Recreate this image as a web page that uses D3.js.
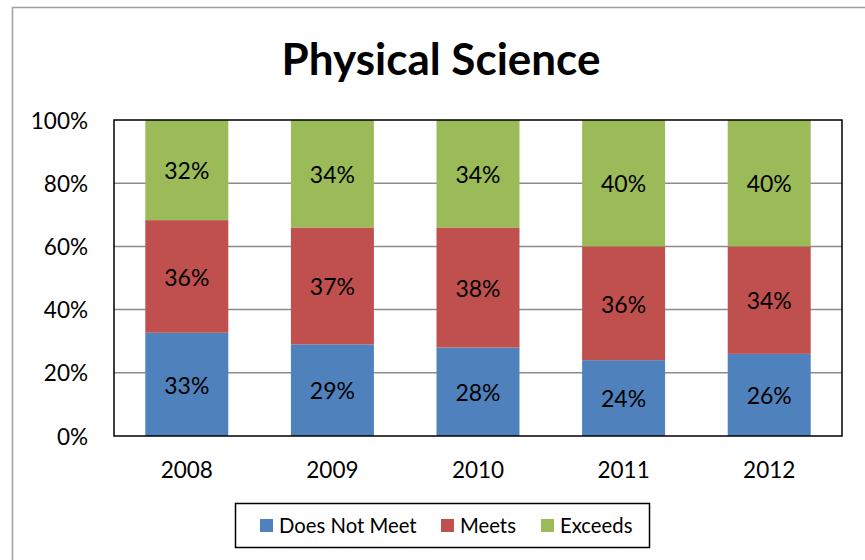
<!DOCTYPE html>
<html>
<head>
<meta charset="utf-8">
<script src="https://cdn.jsdelivr.net/npm/d3@7"></script>
<style>
  body { margin: 0; background: #fff; }
  svg { font-family: Lato, "Open Sans", sans-serif; }
</style>
</head>
<body>
<div id="chart"></div>
<script>
const years = ["2008", "2009", "2010", "2011", "2012"];
const seriesNames = ["Does Not Meet", "Meets", "Exceeds"];
const doesNotMeet = [33, 29, 28, 24, 26];
const meets = [36, 37, 38, 36, 34];
const exceeds = [32, 34, 34, 40, 40];
const yTicks = [0, 0.2, 0.4, 0.6, 0.8, 1];
const colors = ["#4F81BD", "#C0504D", "#9BBB59"];

const W = 865, H = 560;
const margin = {top: 120, right: 23, bottom: 124, left: 114};
const width = W - margin.left - margin.right;
const height = H - margin.top - margin.bottom;

const rows = years.map((y, i) => ({
  year: y,
  "Does Not Meet": doesNotMeet[i],
  "Meets": meets[i],
  "Exceeds": exceeds[i]
}));

// 100% stacked: each year is scaled to its own total
const stacked = d3.stack()
  .keys(seriesNames)
  .offset(d3.stackOffsetExpand)(rows);

const svg = d3.select("#chart").append("svg")
  .attr("width", W).attr("height", H);

// outer chart frame
svg.append("rect")
  .attr("x", 12.5).attr("y", 7.5)
  .attr("width", W).attr("height", H)
  .attr("fill", "none").attr("stroke", "#a0a0a0").attr("stroke-width", 1.5);

svg.append("text")
  .attr("x", 441).attr("y", 75)
  .attr("text-anchor", "middle")
  .attr("font-size", 44).attr("font-weight", "bold")
  .text("Physical Science");

const g = svg.append("g")
  .attr("transform", "translate(" + margin.left + "," + margin.top + ")");

const x = d3.scaleBand().domain(years).range([0, width]).paddingInner(0.43).paddingOuter(0.215);
const y = d3.scaleLinear().domain([0, 1]).range([height, 0]);

// gridlines
g.append("g")
  .selectAll("line")
  .data(yTicks.filter(t => t > 0 && t < 1))
  .join("line")
  .attr("x1", 0).attr("x2", width)
  .attr("y1", d => y(d)).attr("y2", d => y(d))
  .attr("stroke", "#8c8c8c").attr("stroke-width", 1.5);

// bars
const layers = g.selectAll(".layer")
  .data(stacked)
  .join("g")
  .attr("fill", (d, i) => colors[i]);

layers.selectAll("rect")
  .data(d => d)
  .join("rect")
  .attr("x", d => x(d.data.year))
  .attr("width", x.bandwidth())
  .attr("y", d => y(d[1]))
  .attr("height", d => y(d[0]) - y(d[1]));

// data labels
layers.each(function(layer) {
  d3.select(this).selectAll("text")
    .data(layer)
    .join("text")
    .attr("x", d => x(d.data.year) + x.bandwidth() / 2)
    .attr("y", d => (y(d[0]) + y(d[1])) / 2 + 1)
    .attr("dy", "0.36em")
    .attr("text-anchor", "middle")
    .attr("font-size", 23)
    .attr("fill", "#000")
    .text(d => d.data[layer.key] + "%");
});

// plot border
g.append("rect")
  .attr("x", 0).attr("y", 0)
  .attr("width", width).attr("height", height)
  .attr("fill", "none").attr("stroke", "#000").attr("stroke-width", 1.5);

// y axis
const yAxis = g.append("g")
  .call(d3.axisLeft(y).tickValues(yTicks).tickFormat(d3.format(".0%")).tickSize(0).tickPadding(26));
yAxis.select(".domain").remove();
yAxis.selectAll("text").attr("font-size", 22.5).attr("font-family", "Lato, sans-serif").attr("fill", "#000").attr("dy", "0.36em");

// x axis
const xAxis = g.append("g")
  .attr("transform", "translate(0," + height + ")")
  .call(d3.axisBottom(x).tickSize(0));
xAxis.select(".domain").remove();
xAxis.selectAll("text").attr("font-size", 22.5).attr("font-family", "Lato, sans-serif").attr("fill", "#000")
  .attr("y", 34).attr("dy", "0.36em");

// legend
const legend = svg.append("g");
legend.append("rect")
  .attr("x", 235.5).attr("y", 503.5)
  .attr("width", 414).attr("height", 44)
  .attr("fill", "#fff").attr("stroke", "#000").attr("stroke-width", 1.5);

const legendX = [260, 441, 541];
const items = legend.selectAll(".item")
  .data(seriesNames)
  .join("g")
  .attr("transform", (d, i) => "translate(" + legendX[i] + ",519)");
items.append("rect")
  .attr("width", 13).attr("height", 13)
  .attr("fill", (d, i) => colors[i]);
items.append("text")
  .attr("x", 19).attr("y", 6.5).attr("dy", "0.36em")
  .attr("font-size", 20.3)
  .text(d => d);
</script>
</body>
</html>
